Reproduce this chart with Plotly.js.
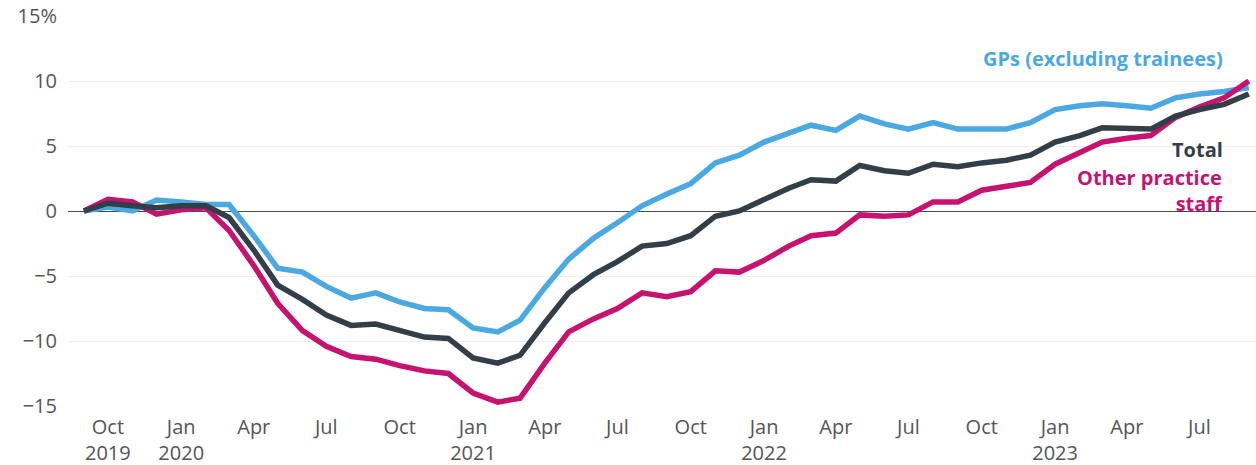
<!DOCTYPE html>
<html>
<head>
<meta charset="utf-8">
<script src="https://cdn.plot.ly/plotly-3.0.1.min.js"></script>
<style>html,body{margin:0;padding:0;background:#fff;}#chart{width:1256px;height:465px;}</style>
</head>
<body>
<div id="chart"></div>
<script>
const months = [
 "2019-09-01","2019-10-01","2019-11-01","2019-12-01",
 "2020-01-01","2020-02-01","2020-03-01","2020-04-01","2020-05-01","2020-06-01","2020-07-01","2020-08-01","2020-09-01","2020-10-01","2020-11-01","2020-12-01",
 "2021-01-01","2021-02-01","2021-03-01","2021-04-01","2021-05-01","2021-06-01","2021-07-01","2021-08-01","2021-09-01","2021-10-01","2021-11-01","2021-12-01",
 "2022-01-01","2022-02-01","2022-03-01","2022-04-01","2022-05-01","2022-06-01","2022-07-01","2022-08-01","2022-09-01","2022-10-01","2022-11-01","2022-12-01",
 "2023-01-01","2023-02-01","2023-03-01","2023-04-01","2023-05-01","2023-06-01","2023-07-01","2023-08-01","2023-09-01"
];
const gps = [
 0, 0.3, 0.0, 0.85,
 0.7, 0.5, 0.5, -1.9, -4.4, -4.7, -5.8, -6.7, -6.3, -7.0, -7.5, -7.6,
 -9.0, -9.3, -8.4, -5.9, -3.7, -2.1, -0.9, 0.4, 1.3, 2.1, 3.7, 4.3,
 5.3, 6.0, 6.6, 6.2, 7.3, 6.7, 6.3, 6.8, 6.3, 6.3, 6.3, 6.8,
 7.8, 8.1, 8.25, 8.1, 7.9, 8.7, 9.0, 9.2, 9.5
];
const total = [
 0, 0.6, 0.4, 0.25,
 0.4, 0.4, -0.5, -3.0, -5.7, -6.8, -8.0, -8.8, -8.7, -9.2, -9.7, -9.8,
 -11.3, -11.7, -11.1, -8.6, -6.3, -4.9, -3.9, -2.7, -2.5, -1.9, -0.4, 0.0,
 0.85, 1.75, 2.4, 2.3, 3.5, 3.1, 2.9, 3.6, 3.4, 3.7, 3.9, 4.3,
 5.3, 5.8, 6.4, 6.3, 6.3, 7.3, 7.8, 8.2, 9.0
];
const other = [
 0, 0.9, 0.7, -0.25,
 0.1, 0.25, -1.5, -4.2, -7.1, -9.2, -10.4, -11.2, -11.4, -11.9, -12.3, -12.5,
 -14.0, -14.7, -14.4, -11.7, -9.3, -8.3, -7.5, -6.3, -6.6, -6.2, -4.6, -4.7,
 -3.8, -2.7, -1.9, -1.7, -0.3, -0.4, -0.3, 0.7, 0.7, 1.6, 1.9, 2.2,
 3.6, 4.5, 5.3, 5.6, 5.8, 7.2, 8.0, 8.7, 10.0
];
const xTickVals = ["2019-10-01","2020-01-01","2020-04-01","2020-07-01","2020-10-01","2021-01-01","2021-04-01","2021-07-01","2021-10-01","2022-01-01","2022-04-01","2022-07-01","2022-10-01","2023-01-01","2023-04-01","2023-07-01"];
const xTickText = ["Oct<br>2019","Jan<br>2020","Apr","Jul","Oct","Jan<br>2021","Apr","Jul","Oct","Jan<br>2022","Apr","Jul","Oct","Jan<br>2023","Apr","Jul"];
const yTickVals = [-15,-10,-5,0,5,10,15];
const yTickText = ["\u221215","\u221210","\u22125","0","5","10","15%"];

const FONT = "Open Sans, Noto Sans, sans-serif";
const cBlue = "#4aa9e1", cDark = "#333f48", cPink = "#c5136f";

const traces = [
 {x: months, y: gps, name: "GPs (excluding trainees)", mode: "lines", line: {color: cBlue, width: 5.5}},
 {x: months, y: other, name: "Other practice staff", mode: "lines", line: {color: cPink, width: 5.5}},
 {x: months, y: total, name: "Total", mode: "lines", line: {color: cDark, width: 5.5}}
];

const layout = {
 width: 1256, height: 465,
 margin: {l: 68, r: 0, t: 16, b: 59},
 paper_bgcolor: "#fff", plot_bgcolor: "#fff",
 showlegend: false,
 font: {family: FONT, size: 20, color: "#555"},
 xaxis: {
  type: "date",
  range: ["2019-08-12", "2023-09-10"],
  tickvals: xTickVals, ticktext: xTickText,
  showgrid: false, zeroline: false, showline: false, ticks: "",
  ticklabelstandoff: 7,
  tickfont: {family: FONT, size: 20, color: "#555"}
 },
 yaxis: {
  range: [-15, 15],
  tickvals: yTickVals, ticktext: yTickText,
  showgrid: true, gridcolor: "#eeeeee", gridwidth: 1,
  zeroline: true, zerolinecolor: "#4a4a4a", zerolinewidth: 1,
  showline: false, ticks: "", ticklabelstandoff: 10,
  tickfont: {family: FONT, size: 20, color: "#555"}
 },
 annotations: [
  {xref: "paper", yref: "y", x: 0.974, y: 11.75, xanchor: "right", yanchor: "middle", showarrow: false,
   text: "<b>GPs (excluding trainees)</b>", font: {family: FONT, size: 20, color: cBlue}},
  {xref: "paper", yref: "y", x: 0.974, y: 4.7, xanchor: "right", yanchor: "middle", showarrow: false,
   text: "<b>Total</b>", font: {family: FONT, size: 20, color: cDark}},
  {xref: "paper", yref: "y", x: 0.974, y: 1.6, xanchor: "right", yanchor: "middle", align: "right", showarrow: false,
   text: "<b>Other practice<br>staff</b>", font: {family: FONT, size: 20, color: cPink}}
 ]
};

Plotly.newPlot("chart", traces, layout, {staticPlot: true, displayModeBar: false});
</script>
</body>
</html>
